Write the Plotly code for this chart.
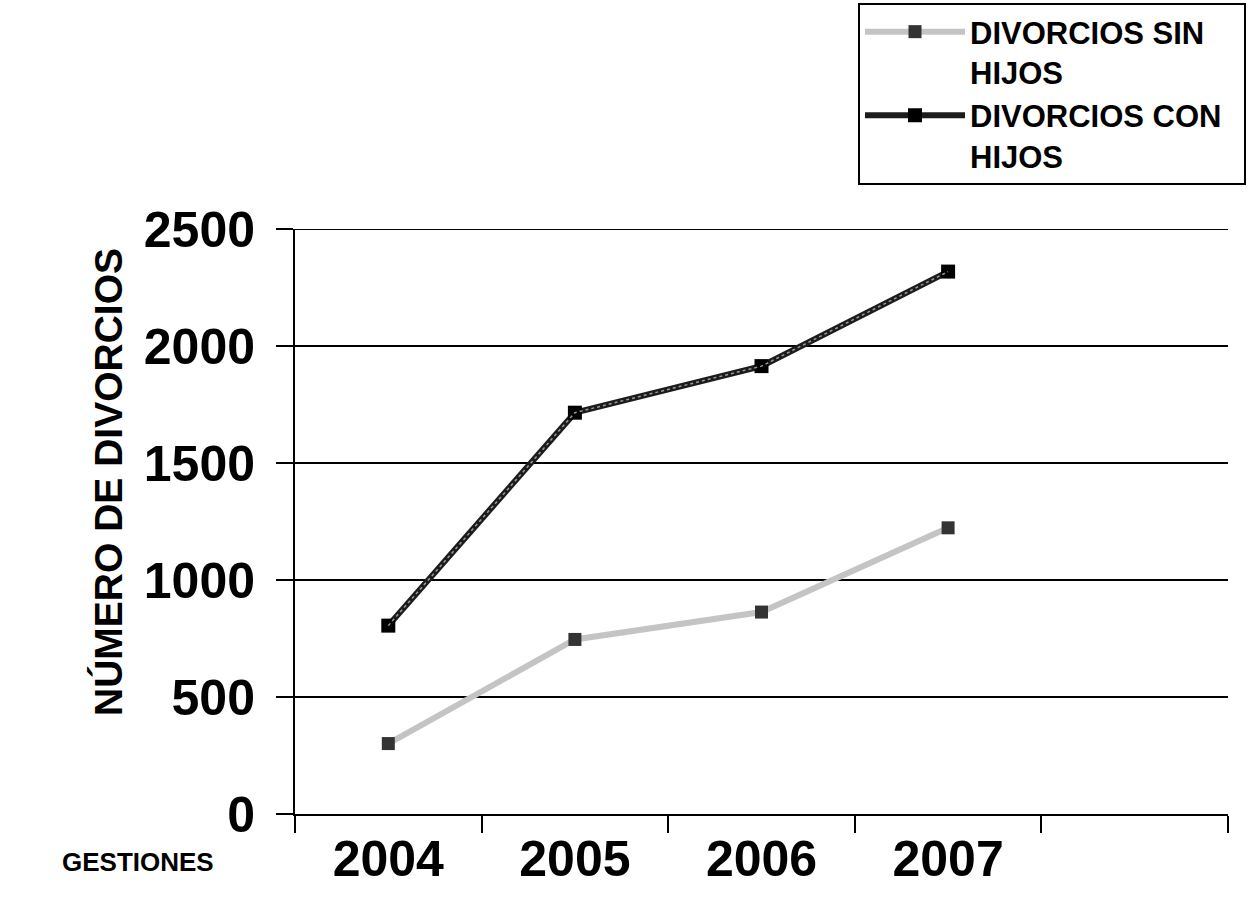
import plotly.graph_objects as go

# Divorce counts per year (gestión)
years = ["2004", "2005", "2006", "2007", " "]
sin_hijos = [301, 746, 863, 1223]
con_hijos = [805, 1715, 1914, 2318]

y_ticks = [0, 500, 1000, 1500, 2000, 2500]

FONT = "Liberation Sans, Arial, sans-serif"

fig = go.Figure()

fig.add_trace(go.Scatter(
    x=years[:4], y=sin_hijos, mode="lines+markers",
    name="DIVORCIOS SIN<br>HIJOS",
    line=dict(color="#c4c4c4", width=6),
    marker=dict(symbol="square", size=13, color="#333333"),
))
fig.add_trace(go.Scatter(
    x=years[:4], y=con_hijos, mode="lines+markers",
    name="DIVORCIOS CON&nbsp;&nbsp;<br>HIJOS",
    line=dict(color="#1c1c1c", width=6),
    marker=dict(symbol="square", size=14, color="#000000"),
))
# fine light stitching inside the dark line
fig.add_trace(go.Scatter(
    x=years[:4], y=con_hijos, mode="lines", showlegend=False, hoverinfo="skip",
    line=dict(color="#9a9a9a", width=1.5, dash="dot"),
))

fig.update_layout(
    width=1258, height=916, autosize=False,
    margin=dict(l=295, r=30, t=229, b=102, autoexpand=False),
    paper_bgcolor="white", plot_bgcolor="white",
    font=dict(family=FONT, color="black", weight="bold"),
    showlegend=True,
    legend=dict(
        xref="container", yref="container",
        x=858 / 1258, y=1 - 3 / 916, xanchor="left", yanchor="top",
        bordercolor="black", borderwidth=2, bgcolor="white",
        font=dict(size=31, family=FONT, weight="bold"),
        itemwidth=100, valign="top", tracegroupgap=0,
        traceorder="normal",
    ),
)

fig.update_xaxes(
    type="category", categoryorder="array", categoryarray=years,
    range=[-0.5, 4.5], tickson="boundaries",
    ticks="outside", ticklen=17, tickwidth=2, tickcolor="black",
    showline=True, linewidth=2, linecolor="black",
    showgrid=False, zeroline=False,
    tickfont=dict(size=50, family=FONT, weight="bold"),
)
fig.update_yaxes(
    range=[0, 2500], tickvals=y_ticks,
    ticks="outside", ticklen=17, tickwidth=2, tickcolor="black",
    showline=True, linewidth=2, linecolor="black",
    showgrid=True, gridcolor="black", gridwidth=2, zeroline=False,
    tickfont=dict(size=50, family=FONT, weight="bold"),
    ticklabelstandoff=11,
)

# top edge of the plotting frame at the highest gridline
fig.add_shape(
    type="line", xref="paper", yref="y", x0=0, x1=1,
    y0=y_ticks[-1], y1=y_ticks[-1],
    line=dict(color="black", width=2),
)

fig.add_annotation(
    text="NÚMERO DE DIVORCIOS", textangle=-90,
    xref="paper", yref="paper", x=-0.2004, y=0.5675,
    xanchor="center", yanchor="middle", showarrow=False,
    font=dict(size=39, family=FONT, weight="bold"),
)
fig.add_annotation(
    text="GESTIONES",
    xref="paper", yref="paper", x=-0.168, y=-0.082,
    xanchor="center", yanchor="middle", showarrow=False,
    font=dict(size=26, family=FONT, weight="bold"),
)

fig.write_html("out.html")
